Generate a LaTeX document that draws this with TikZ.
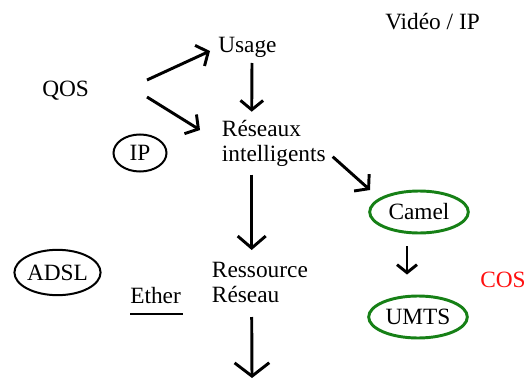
\documentclass[tikz,border=0pt]{standalone}
\usepackage{fontspec}
\setmainfont{Liberation Serif}
\usepackage{tikz}
\usetikzlibrary{arrows.meta,shapes.geometric}
\definecolor{ringgreen}{HTML}{168016}
\definecolor{cosred}{HTML}{FF1010}

\begin{document}
\begin{tikzpicture}[x=0.75pt, y=-0.75pt,
  >={Straight Barb[length=7pt, width=17pt]},
  lbl/.style={font=\fontsize{17.5}{18.75}\selectfont, inner sep=0pt, anchor=base west, align=left},
  bulle/.style={ellipse, draw, line width=1.5pt, inner sep=0pt, font=\fontsize{17.5}{18.75}\selectfont},
  vert/.style={bulle, draw=ringgreen, line width=2.2pt, minimum width=74pt, minimum height=31.5pt},
  arr/.style={->, line width=2.2pt}]
\useasboundingbox (0,0) rectangle (528,378);
% texts (multi-line nodes sit on their last line)
\node[lbl] (video) at (385,30) {Vidéo / IP};
\node[lbl] (usage) at (218,53) {Usage};
\node[lbl] (qos) at (42,97) {QOS};
\node[lbl] (reseaux) at (221.7,161.7) {Réseaux\\intelligents};
\node[lbl] (ressource) at (211.7,302) {Ressource\\Réseau};
\node[lbl] (ether) at (130,303) {Ether};
\node[lbl, text=cosred] (cos) at (480,287) {COS};
% ringed items
\node[bulle, minimum width=39.75pt, minimum height=27.75pt] (ip) at (140,153) {IP};
\node[bulle, minimum width=64pt, minimum height=34pt] (adsl) at (57.5,272.5) {ADSL};
\node[vert] (camel) at (419,212) {Camel};
\node[vert] (umts) at (418,317) {UMTS};
\draw[line width=1.5pt] ([shift={(0,11)}]ether.base west) -- ([shift={(2,11)}]ether.base east);
% arrows
\coordinate (sortie) at (252,378);
\draw[arr] ([shift={(105,-17)}]qos.base west) -- ([shift={(-8,-2)}]usage.base west);
\draw[arr] ([shift={(105,0)}]qos.base west) -- ([shift={(-21.7,-31.7)}]reseaux.base west);
\draw[arr] ([shift={(34,10)}]usage.base west) -- ([shift={(30,-50)}]reseaux.base west);
\draw[arr] ([shift={(111,-5)}]reseaux.base west) -- ([shift={(-49,-22)}]camel.center);
\draw[arr, >={Straight Barb[length=9pt, width=21pt]}] ([shift={(30,13)}]reseaux.base west) -- ([shift={(40,-52)}]ressource.base west);
\draw[arr, >={Straight Barb[length=6pt, width=15pt]}] ([shift={(-12,12)}]camel.south) -- ([shift={(-11,-20)}]umts.north);
\draw[arr, >={Straight Barb[length=10pt, width=26pt]}] ([shift={(40,15)}]ressource.base west) -- (sortie);
\end{tikzpicture}
\end{document}
